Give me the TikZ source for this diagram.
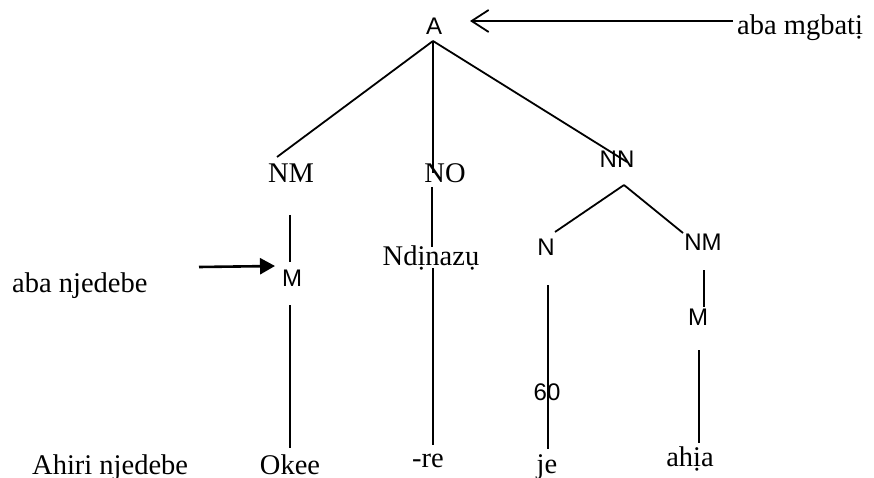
\documentclass[tikz,border=0pt]{standalone}
\usepackage{fontspec}
\setmainfont{Liberation Serif}
\newfontfamily\lsans{Liberation Sans}
\usetikzlibrary{arrows.meta}
\tikzset{
  serif/.style={inner sep=0pt, anchor=base, font=\fontsize{28.5}{30}\selectfont},
  sans/.style={inner sep=0pt, anchor=base, font=\lsans\fontsize{24}{26}\selectfont},
  branch/.style={line width=1.8pt},
  pointer/.style={line width=1.8pt, -{Straight Barb[length=17pt,width=22pt,line width=1.8pt]}},
  filledpointer/.style={line width=2.6pt, -{Triangle[length=15pt,width=16pt]}}
}
\begin{document}
\begin{tikzpicture}[x=1pt,y=-1pt]
\useasboundingbox (0,0) rectangle (874,478);
% nodes
\node[sans] (A) at (434,35) {A};
\node[serif, anchor=base west] (mgbati) at (737,35) {aba mgbatị};
\node[serif] (NM1) at (291,183) {NM};
\node[serif] (NO) at (445,183) {NO};
\node[sans] (NN) at (617,168) {NN};
\node[sans] (M1) at (292,286) {M};
\node[serif] (Ndinazu) at (431,265) {Ndịnazụ};
\node[sans] (N) at (546,255) {N};
\node[sans] (NM2) at (703,250) {NM};
\node[sans] (M2) at (698,325) {M};
\node[serif, anchor=base west] (njedebe) at (12,292) {aba njedebe};
\node[sans] (sixty) at (547,400) {60};
\node[serif] (je) at (547,473) {je};
\node[serif] (ahia) at (690,466) {ahịa};
\node[serif] (Okee) at (290,474) {Okee};
\node[serif, anchor=base west] (ahiri) at (32,474) {Ahiri njedebe};
\node[serif] (re) at (428,467) {-re};
% coordinates for line ends
\coordinate (apex) at (433,41);
\coordinate (nm1top) at (277,157);
\coordinate (notop) at (433,173);
\coordinate (nntop) at (627,162);
\coordinate (nm1a) at (290,215);
\coordinate (nm1b) at (290,262);
\coordinate (noa) at (432,187);
\coordinate (nob) at (432,247);
\coordinate (nnapex) at (624,185);
\coordinate (ntop) at (555,232);
\coordinate (nm2top) at (683,233);
\coordinate (nm2a) at (704,270);
\coordinate (nm2b) at (704,307);
\coordinate (m1a) at (290,305);
\coordinate (m1b) at (290,448);
\coordinate (nda) at (433,268);
\coordinate (ndb) at (433,445);
\coordinate (na) at (548,285);
\coordinate (nb) at (548,449);
\coordinate (m2a) at (699,350);
\coordinate (m2b) at (699,443);
\coordinate (arrAstart) at (733,21);
\coordinate (arrAend) at (470,21);
\coordinate (arrMstart) at (199,267);
\coordinate (arrMend) at (275,266);
% connectors
\draw[branch] (apex) -- (nm1top);
\draw[branch] (apex) -- (notop);
\draw[branch] (apex) -- (nntop);
\draw[branch] (nm1a) -- (nm1b);
\draw[branch] (noa) -- (nob);
\draw[branch] (nnapex) -- (ntop);
\draw[branch] (nnapex) -- (nm2top);
\draw[branch] (nm2a) -- (nm2b);
\draw[branch] (m1a) -- (m1b);
\draw[branch] (nda) -- (ndb);
\draw[branch] (na) -- (nb);
\draw[branch] (m2a) -- (m2b);
\draw[pointer] (arrAstart) -- (arrAend);
\draw[filledpointer] (arrMstart) -- (arrMend);
\end{tikzpicture}
\end{document}
